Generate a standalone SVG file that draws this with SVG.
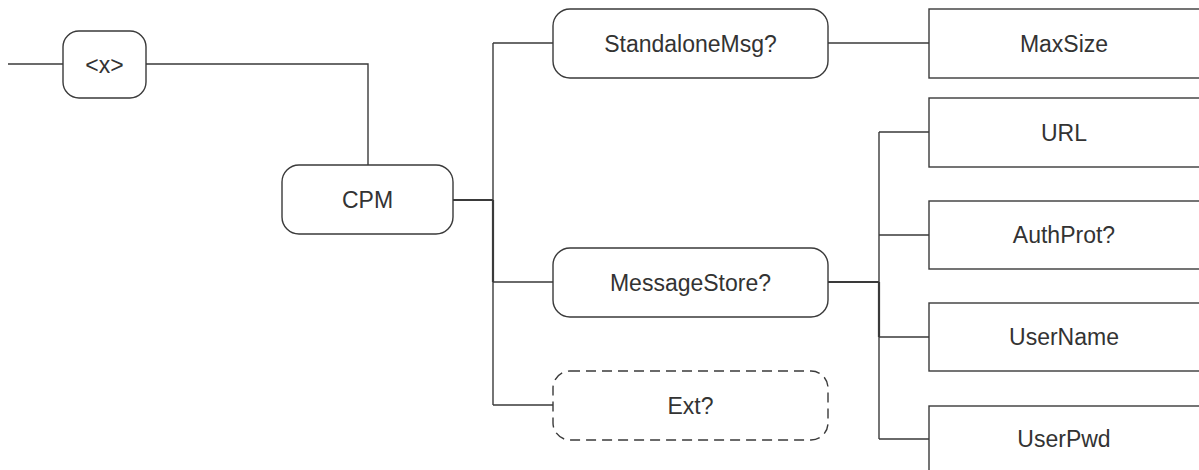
<svg xmlns="http://www.w3.org/2000/svg" width="1199" height="470" viewBox="0 0 1199 470">
<style>
.n{fill:#fff;stroke:#3a3a3a;stroke-width:1.4}
.d{stroke-dasharray:10 6}
.t{font-family:"Liberation Sans",Arial,sans-serif;font-size:23px;fill:#333;text-anchor:middle;dominant-baseline:central}
.c{fill:none;stroke:#3a3a3a;stroke-width:1.4}
.k{stroke-width:2.2}
</style>
<rect width="1199" height="470" fill="#fff"/>
<g id="connectors">
<path class="c" d="M8,64 H63"/>
<path class="c" d="M146,64 H368 V165"/>
<path class="c k" d="M453,200 H493"/>
<path class="c" d="M493,43 V405"/>
<path class="c k" d="M493,200 V282"/>
<path class="c" d="M493,43 H553 M493,282 H553 M493,405 H553"/>
<path class="c" d="M828,43 H929"/>
<path class="c k" d="M828,282 H879"/>
<path class="c" d="M879,132 V439"/>
<path class="c k" d="M879,282 V337"/>
<path class="c" d="M879,132 H929 M879,235 H929 M879,337 H929 M879,439 H929"/>
</g>
<g id="node-x"><rect class="n" x="63" y="31" width="83" height="67" rx="16"/><text class="t" x="104.5" y="64.5">&lt;x&gt;</text></g>
<g id="node-cpm"><rect class="n" x="282" y="165" width="171" height="69" rx="17"/><text class="t" x="367.5" y="199.5">CPM</text></g>
<g id="node-standalonemsg"><rect class="n" x="553" y="9" width="275" height="69" rx="17"/><text class="t" x="690.5" y="43.5">StandaloneMsg?</text></g>
<g id="node-messagestore"><rect class="n" x="553" y="248" width="275" height="69" rx="17"/><text class="t" x="690.5" y="282.5">MessageStore?</text></g>
<g id="node-ext"><rect class="n d" x="553" y="371" width="275" height="69" rx="17"/><text class="t" x="690.5" y="405.5">Ext?</text></g>
<g id="node-maxsize"><rect class="n" x="929" y="9" width="275" height="69"/><text class="t" x="1064" y="43.5">MaxSize</text></g>
<g id="node-url"><rect class="n" x="929" y="98" width="275" height="69"/><text class="t" x="1064" y="132.5">URL</text></g>
<g id="node-authprot"><rect class="n" x="929" y="201" width="275" height="68"/><text class="t" x="1064" y="235">AuthProt?</text></g>
<g id="node-username"><rect class="n" x="929" y="303" width="275" height="68"/><text class="t" x="1064" y="337">UserName</text></g>
<g id="node-userpwd"><rect class="n" x="929" y="406" width="275" height="69"/><text class="t" x="1064" y="439">UserPwd</text></g>
</svg>
